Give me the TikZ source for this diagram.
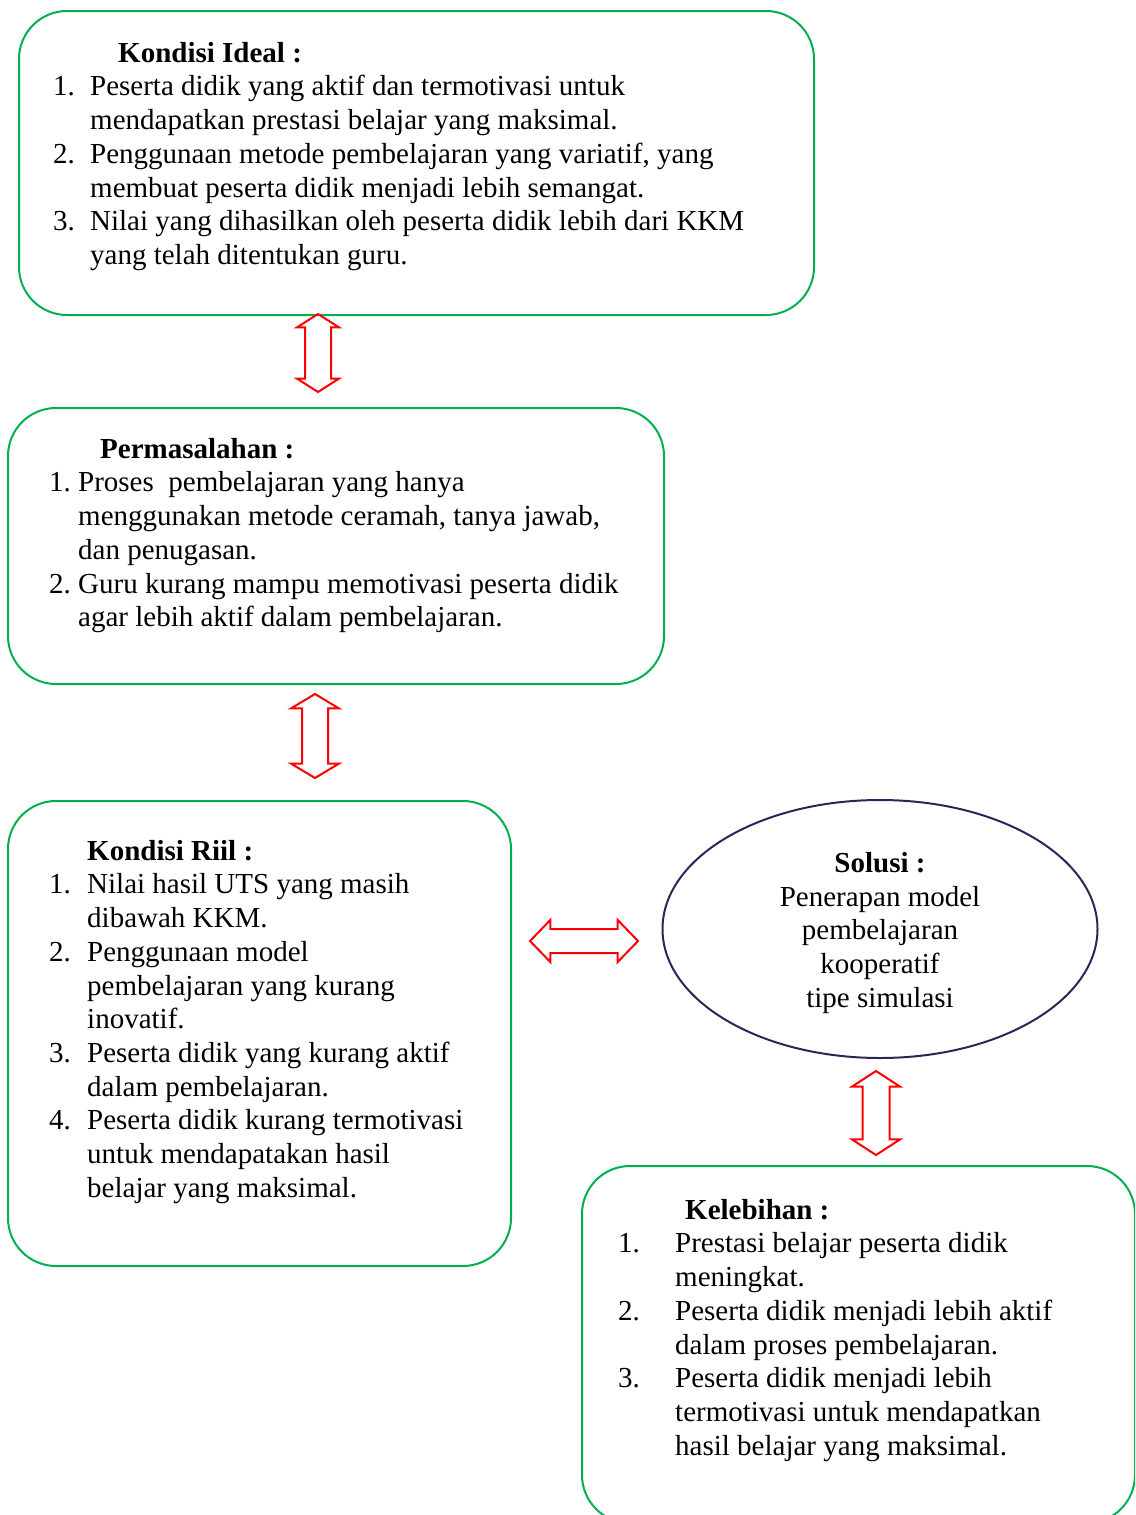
\documentclass[tikz,border=0pt]{standalone}
\usepackage{fontspec}
\setmainfont{Liberation Serif}
\usepackage{tikz}
\usetikzlibrary{shapes}
\usetikzlibrary{shapes.arrows}
\usetikzlibrary{shapes.geometric}
\usetikzlibrary{positioning}
\definecolor{boxgreen}{RGB}{0,176,80}
\definecolor{ovalblue}{RGB}{46,36,86}
\tikzset{>=latex}
\newcommand{\fs}{\fontsize{29}{33.7}\selectfont}
\newcommand{\tstrut}{\rule{0pt}{23pt}}
\newcommand{\nb}[2]{\makebox[#1][l]{#2}}
\tikzstyle{box} = [draw = boxgreen, line width = 2pt, rounded corners = 48pt, anchor = north west, inner sep = 0]
\tikzstyle{txt} = [anchor = north west, inner sep = 0, align = left, font = \fs]
\tikzstyle{blk} = [double arrow, draw = red, line width = 2pt, inner xsep = 0, inner ysep = 12pt]

\begin{document}
\begin{tikzpicture}[x = 1pt, y = -1pt]
\useasboundingbox (0, 0) rectangle (1135, 1515);
\clip (0, 0) rectangle (1135, 1515);
% boxes
\node [box, minimum width = 795pt, minimum height = 304pt] (ideal) at (18, 10) {};
\node [box, minimum width = 656pt, minimum height = 276pt] (masalah) at (7, 407) {};
\node [box, minimum width = 503pt, minimum height = 465pt] (riil) at (7, 800) {};
\node [box, minimum width = 553pt, minimum height = 357pt] (lebih) at (581, 1165) {};
\node [ellipse, draw = ovalblue, line width = 2pt, inner sep = 0, minimum width = 435pt, minimum height = 258pt, align = center, font = \fs] (solusi) at (880, 929)
  {\rule{0pt}{28pt}\textbf{Solusi :}\\ Penerapan model\\ pembelajaran\\ kooperatif\\ tipe simulasi};
% texts
\node [txt] (idealtxt) at (53, 39) {\tstrut\hspace*{65pt}\textbf{Kondisi Ideal :}\\
  \nb{37pt}{1.}Peserta didik yang aktif dan termotivasi untuk\\
  \nb{37pt}{}mendapatkan prestasi belajar yang maksimal.\\
  \nb{37pt}{2.}Penggunaan metode pembelajaran yang variatif, yang\\
  \nb{37pt}{}membuat peserta didik menjadi lebih semangat.\\
  \nb{37pt}{3.}Nilai yang dihasilkan oleh peserta didik lebih dari KKM\\
  \nb{37pt}{}yang telah ditentukan guru.};
\node [txt] (masalahtxt) at (49, 435) {\tstrut\hspace*{51pt}\textbf{Permasalahan :}\\
  \nb{29pt}{1.}Proses\ \ pembelajaran yang hanya\\
  \nb{29pt}{}menggunakan metode ceramah, tanya jawab,\\
  \nb{29pt}{}dan penugasan.\\
  \nb{29pt}{2.}Guru kurang mampu memotivasi peserta didik\\
  \nb{29pt}{}agar lebih aktif dalam pembelajaran.};
\node [txt] (riiltxt) at (49, 837) {\tstrut\hspace*{38pt}\textbf{Kondisi Riil :}\\
  \nb{38pt}{1.}Nilai hasil UTS yang masih\\
  \nb{38pt}{}dibawah KKM.\\
  \nb{38pt}{2.}Penggunaan model\\
  \nb{38pt}{}pembelajaran yang kurang\\
  \nb{38pt}{}inovatif.\\
  \nb{38pt}{3.}Peserta didik yang kurang aktif\\
  \nb{38pt}{}dalam pembelajaran.\\
  \nb{38pt}{4.}Peserta didik kurang termotivasi\\
  \nb{38pt}{}untuk mendapatakan hasil\\
  \nb{38pt}{}belajar yang maksimal.};
\node [txt] (lebihtxt) at (618, 1196) {\tstrut\hspace*{67pt}\textbf{Kelebihan :}\\
  \nb{57pt}{1.}Prestasi belajar peserta didik\\
  \nb{57pt}{}meningkat.\\
  \nb{57pt}{2.}Peserta didik menjadi lebih aktif\\
  \nb{57pt}{}dalam proses pembelajaran.\\
  \nb{57pt}{3.}Peserta didik menjadi lebih\\
  \nb{57pt}{}termotivasi untuk mendapatkan\\
  \nb{57pt}{}hasil belajar yang maksimal.};
% block arrows
\node [blk, rotate = 90, minimum height = 78pt, minimum width = 41pt, double arrow head extend = 8pt, double arrow tip angle = 115] (a1) at (318, 353) {};
\node [blk, rotate = 90, minimum height = 84pt, minimum width = 47pt, double arrow head extend = 11pt, double arrow tip angle = 118] (a2) at (315, 736) {};
\node [blk, inner ysep = 11pt, minimum height = 108pt, minimum width = 40pt, double arrow head extend = 9pt, double arrow tip angle = 92] (a3) at (584, 941) {};
\node [blk, inner ysep = 12.5pt, rotate = 90, minimum height = 84pt, minimum width = 46pt, double arrow head extend = 10.5pt, double arrow tip angle = 114] (a4) at (876, 1113) {};
\end{tikzpicture}
\end{document}
